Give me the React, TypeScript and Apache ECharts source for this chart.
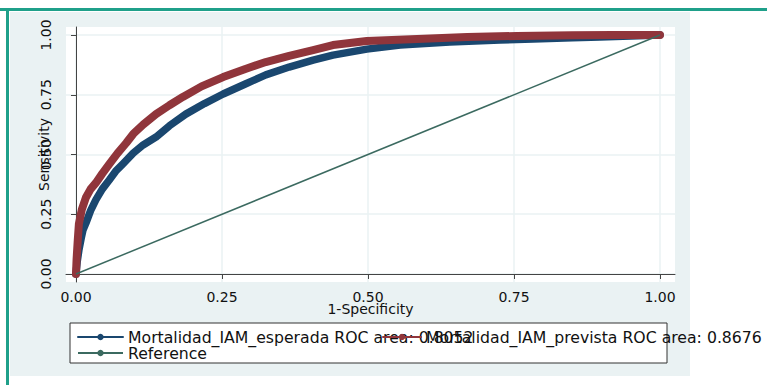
import React, { useEffect, useRef } from "react";
import * as echarts from "echarts";

const tickValues = [0, 0.25, 0.5, 0.75, 1];

const esperadaFpr = [0, 0.002, 0.005, 0.009, 0.012, 0.017, 0.025, 0.034, 0.045, 0.057, 0.068, 0.08, 0.098, 0.115, 0.137, 0.16, 0.188, 0.22, 0.252, 0.29, 0.325, 0.365, 0.406, 0.44, 0.498, 0.555, 0.64, 0.726, 0.783, 0.85, 0.897, 0.95, 1.0];
const esperadaTpr = [0, 0.05, 0.1, 0.15, 0.184, 0.213, 0.265, 0.31, 0.355, 0.393, 0.43, 0.46, 0.506, 0.54, 0.573, 0.62, 0.669, 0.713, 0.753, 0.795, 0.833, 0.866, 0.895, 0.916, 0.941, 0.958, 0.971, 0.979, 0.983, 0.988, 0.992, 0.996, 1.0];

const previstaFpr = [0, 0.001, 0.003, 0.005, 0.01, 0.017, 0.025, 0.034, 0.045, 0.057, 0.071, 0.086, 0.098, 0.115, 0.137, 0.16, 0.183, 0.215, 0.252, 0.29, 0.325, 0.365, 0.406, 0.44, 0.498, 0.584, 0.67, 0.755, 0.85, 0.92, 1.0];
const previstaTpr = [0, 0.06, 0.14, 0.21, 0.27, 0.32, 0.355, 0.381, 0.42, 0.46, 0.505, 0.548, 0.586, 0.625, 0.669, 0.706, 0.741, 0.785, 0.824, 0.858, 0.887, 0.913, 0.937, 0.958, 0.975, 0.983, 0.992, 0.996, 0.999, 1.0, 1.0];

const referenceX = [0, 1];
const referenceY = [0, 1];

const nameEsperada = "Mortalidad_IAM_esperada ROC area: 0.8052";
const namePrevista = "Mortalidad_IAM_prevista ROC area: 0.8676";
const nameReference = "Reference";

const zip = (a: number[], b: number[]) => a.map((v, i) => [v, b[i]]);

const FONT = "DejaVu Sans";

export default function App() {
  const ref = useRef<HTMLDivElement>(null);
  useEffect(() => {
    if (!ref.current) return;
    const chart = echarts.init(ref.current, undefined, { renderer: "svg" });
    const axisCommon = {
      type: "value" as const,
      axisLine: { show: true, lineStyle: { color: "#444", width: 1 } },
      axisTick: { show: true, length: 5, customValues: tickValues, lineStyle: { color: "#444" } },
      splitLine: { show: true, lineStyle: { color: "#EAF2F3", width: 1.5 } },
    };
    chart.setOption({
      animation: false,
      backgroundColor: "#ffffff",
      graphic: [
        { type: "rect", z: -20, shape: { x: 0, y: 8, width: 767, height: 3 }, style: { fill: "#1FA08A" } },
        { type: "rect", z: -20, shape: { x: 6, y: 8, width: 3, height: 377 }, style: { fill: "#1FA08A" } },
        { type: "rect", z: -19, shape: { x: 10, y: 12, width: 680, height: 364 }, style: { fill: "#EAF2F3" } },
        { type: "rect", z: 1, shape: { x: 70, y: 323, width: 597, height: 40 }, style: { fill: "#ffffff", stroke: "#333", lineWidth: 1 } },
      ],
      grid: {
        left: 66,
        top: 27,
        right: 92,
        bottom: 103,
        show: true,
        backgroundColor: "#ffffff",
        borderWidth: 0,
      },
      xAxis: {
        ...axisCommon,
        min: -0.0171,
        max: 1.0257,
        axisLabel: {
          customValues: tickValues,
          formatter: (v: number) => v.toFixed(2),
          fontFamily: FONT,
          fontSize: 14,
          color: "#111",
          margin: 8,
        },
        name: "1-Specificity",
        nameLocation: "middle",
        nameGap: 20,
        nameMoveOverlap: false,
        nameTextStyle: { fontFamily: FONT, fontSize: 14, color: "#111", verticalAlign: "top" },
      },
      yAxis: {
        ...axisCommon,
        min: -0.0335,
        max: 1.0335,
        axisLabel: {
          customValues: tickValues,
          formatter: (v: number) => v.toFixed(2),
          fontFamily: FONT,
          fontSize: 14,
          color: "#111",
          rotate: 90,
          margin: 13,
        },
        name: "Sensitivity",
        nameLocation: "middle",
        nameRotate: 90,
        nameGap: 15,
        nameMoveOverlap: false,
        nameTextStyle: { fontFamily: FONT, fontSize: 14, color: "#111" },
      },
      legend: [
        {
          z: 5,
          left: 77,
          top: 329,
          orient: "vertical",
          itemWidth: 45,
          itemHeight: 8,
          itemGap: 0,
          padding: 0,
          data: [nameEsperada, nameReference],
          lineStyle: { width: 2 },
          textStyle: { fontFamily: FONT, fontSize: 15.7, color: "#111", lineHeight: 16 },
        },
        {
          z: 5,
          left: 382,
          top: 329,
          orient: "vertical",
          itemWidth: 38,
          itemHeight: 8,
          itemGap: 0,
          padding: 0,
          data: [namePrevista],
          lineStyle: { width: 2 },
          textStyle: { fontFamily: FONT, fontSize: 15.7, color: "#111", lineHeight: 16 },
        },
      ],
      series: [
        {
          name: nameEsperada,
          type: "line",
          data: zip(esperadaFpr, esperadaTpr),
          symbol: "circle",
          symbolSize: 7,
          showSymbol: false,
          lineStyle: { color: "#1A476F", width: 7.5, cap: "round", join: "round" },
          itemStyle: { color: "#1A476F" },
          z: 2,
        },
        {
          name: namePrevista,
          type: "line",
          data: zip(previstaFpr, previstaTpr),
          symbol: "circle",
          symbolSize: 7,
          showSymbol: false,
          lineStyle: { color: "#90353B", width: 8, cap: "round", join: "round" },
          itemStyle: { color: "#90353B" },
          z: 3,
        },
        {
          name: nameReference,
          type: "line",
          data: zip(referenceX, referenceY),
          symbol: "none",
          lineStyle: { color: "#3B6A60", width: 1.5 },
          itemStyle: { color: "#3B6A60" },
          z: 4,
        },
      ],
    });
    return () => chart.dispose();
  }, []);
  return (
    <div
      ref={ref}
      style={{ position: "fixed", left: 0, top: 0, width: 767, height: 385 }}
    />
  );
}
